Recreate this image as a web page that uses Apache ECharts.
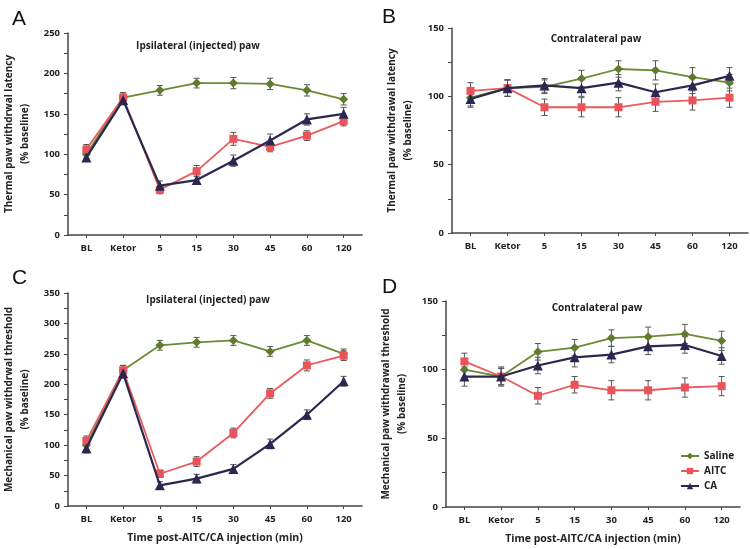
<!DOCTYPE html>
<html><head><meta charset="utf-8">
<script src="https://cdn.jsdelivr.net/npm/echarts@6/dist/echarts.min.js"></script>
<style>html,body{margin:0;padding:0;background:#fff}#c{width:750px;height:549px}</style>
</head><body><div id="c"></div>
<script>
const categories = ['BL','Ketor','5','15','30','45','60','120'];
const seriesNames = ['Saline','AITC','CA'];

// Panel A: thermal, ipsilateral
const A_saline = [100,170,179,188,188,187,179,168];
const A_aitc   = [106,170,56,79,119,109,123,141];
const A_ca     = [96,167,61,68,92,117,143,150];
const A_saline_err = [5,6,6,6,7,7,7,7];
const A_aitc_err   = [6,6,5,7,8,6,6,6];
const A_ca_err     = [5,6,6,5,7,8,7,8];

// Panel B: thermal, contralateral
const B_saline = [99,106,107,113,120,119,114,110];
const B_aitc   = [104,106,92,92,92,96,97,99];
const B_ca     = [98,106,108,106,110,103,108,115];
const B_saline_err = [6,6,5,6,6,7,7,6];
const B_aitc_err   = [6,6,6,7,7,7,7,7];
const B_ca_err     = [6,6,5,6,6,6,6,6];

// Panel C: mechanical, ipsilateral
const C_saline = [100,223,264,269,272,254,272,250];
const C_aitc   = [107,223,53,73,120,185,231,247];
const C_ca     = [95,218,34,45,61,102,150,205];
const C_saline_err = [8,8,8,8,8,8,8,8];
const C_aitc_err   = [8,8,6,8,8,8,9,8];
const C_ca_err     = [8,8,6,7,7,8,8,8];

// Panel D: mechanical, contralateral
const D_saline = [100,95,113,116,123,124,126,121];
const D_aitc   = [106,95,81,89,85,85,87,88];
const D_ca     = [95,95,103,109,111,117,118,110];
const D_saline_err = [6,6,6,6,6,7,7,7];
const D_aitc_err   = [6,6,6,6,7,7,7,7];
const D_ca_err     = [7,7,6,7,6,6,6,6];

const yMax = [250,150,350,150];
const yInterval = [50,50,50,50];
const yNames = ['Thermal paw withdrwal latency\n(% baseline)','Thermal paw withdrawal latency\n(% baseline)','Mechanical paw withdrwal threshold\n(% baseline)','Mechanical paw withdrawal threshold\n(% baseline)'];
const panelTitles = ['Ipsilateral (injected) paw','Contralateral paw','Ipsilateral (injected) paw','Contralateral paw'];
const xName = 'Time post-AITC/CA injection (min)';

const colors = ['#5e7d2c','#e9545a','#2b2850'];
const lineColors = ['#6a8a33','#ea5a5e','#2b2850'];
const symbols = ['diamond','rect','triangle'];
const symbolSizes = [9,8,10];

const FONT = 'Open Sans';
const grids = [
  {left:68, top:33, width:294, height:202},
  {left:452, top:28, width:296, height:205},
  {left:68, top:293, width:294, height:213},
  {left:446, top:301, width:294, height:206}
];
const panels = [
  [A_saline,A_aitc,A_ca],[B_saline,B_aitc,B_ca],[C_saline,C_aitc,C_ca],[D_saline,D_aitc,D_ca]
];
const panelErr = [
  [A_saline_err,A_aitc_err,A_ca_err],[B_saline_err,B_aitc_err,B_ca_err],[C_saline_err,C_aitc_err,C_ca_err],[D_saline_err,D_aitc_err,D_ca_err]
];

const xAxes = grids.map((g,i)=>({
  type:'category', gridIndex:i, data:categories, boundaryGap:true,
  axisLine:{lineStyle:{color:'#444',width:1.5}},
  axisTick:{show:true, alignWithLabel:true, length:3, lineStyle:{color:'#444'}},
  axisLabel:{color:'#222', fontFamily:FONT, fontWeight:'bold', fontSize:9.5, margin:8, interval:0},
  name: i>=2 ? xName : '', nameLocation:'middle', nameGap:27,
  nameTextStyle:{color:'#222', fontFamily:FONT, fontWeight:'bold', fontSize:10.5}
}));
const yAxes = grids.map((g,i)=>({
  type:'value', gridIndex:i, min:0, max:yMax[i], interval:yInterval[i],
  axisLine:{show:true, lineStyle:{color:'#444',width:1.5}},
  axisTick:{show:true, length:4, lineStyle:{color:'#444'}},
  minorTick:{show:true, splitNumber:2, length:4, lineStyle:{color:'#444'}},
  splitLine:{show:false},
  axisLabel:{color:'#222', fontFamily:FONT, fontWeight:'bold', fontSize:9.5, margin:8},
  name:yNames[i], nameLocation:'middle', nameRotate:90, nameGap:i%2===0?35:36,
  nameTextStyle:{color:'#222', fontFamily:FONT, fontWeight:'bold', fontSize:10, lineHeight:16}
}));

const series = [];
panels.forEach((p,pi)=>{
  p.forEach((vals,si)=>{
    const errs = panelErr[pi][si];
    series.push({
      type:'custom', xAxisIndex:pi, yAxisIndex:pi, z:2,
      data: vals.map((v,k)=>[k,v,errs[k]]),
      encode:{x:0,y:1},
      silent:true,
      renderItem:(params,api)=>{
        const x = api.value(0), y = api.value(1), e = api.value(2);
        const top = api.coord([x,y+e]);
        const bot = api.coord([x,y-e]);
        const st = {stroke:'#555', lineWidth:1};
        return {type:'group', children:[
          {type:'line', shape:{x1:top[0],y1:top[1],x2:bot[0],y2:bot[1]}, style:st},
          {type:'line', shape:{x1:top[0]-3,y1:top[1],x2:top[0]+3,y2:top[1]}, style:st},
          {type:'line', shape:{x1:bot[0]-3,y1:bot[1],x2:bot[0]+3,y2:bot[1]}, style:st}
        ]};
      }
    });
  });
  p.forEach((vals,si)=>{
    series.push({
      name:seriesNames[si], type:'line', xAxisIndex:pi, yAxisIndex:pi, z:3+si,
      data:vals, symbol:symbols[si], symbolSize:symbolSizes[si], showAllSymbol:true,
      itemStyle:{color:colors[si]},
      lineStyle:{color:lineColors[si], width: si===2?2.2:1.8},
      emphasis:{disabled:true}, animation:false
    });
  });
});

const titles = [
  {text:'A', left:7, top:4},{text:'B', left:377, top:2},{text:'C', left:7, top:263},{text:'D', left:377, top:272}
].map(t=>({...t, textStyle:{fontFamily:'Liberation Sans', fontWeight:'normal', fontSize:21, color:'#111'}}));
const ptitles = [
  {x:193,y:36},{x:591,y:29},{x:203,y:290},{x:592,y:298}
].map((p,i)=>({text:panelTitles[i], left:p.x, top:p.y, textAlign:'center',
  textStyle:{fontFamily:FONT, fontWeight:'bold', fontSize:10, color:'#222'}}));

const chart = echarts.init(document.getElementById('c'), null, {renderer:'canvas'});
chart.setOption({
  animation:false,
  backgroundColor:'#fff',
  title: titles.concat(ptitles),
  grid: grids,
  xAxis: xAxes,
  yAxis: yAxes,
  legend:{
    data:seriesNames, orient:'vertical', left:680, top:451, itemWidth:18, itemHeight:8, itemGap:5,
    textStyle:{fontFamily:FONT, fontWeight:'bold', fontSize:10, color:'#222'}, padding:0, selectedMode:false
  },
  series
});
</script></body></html>
